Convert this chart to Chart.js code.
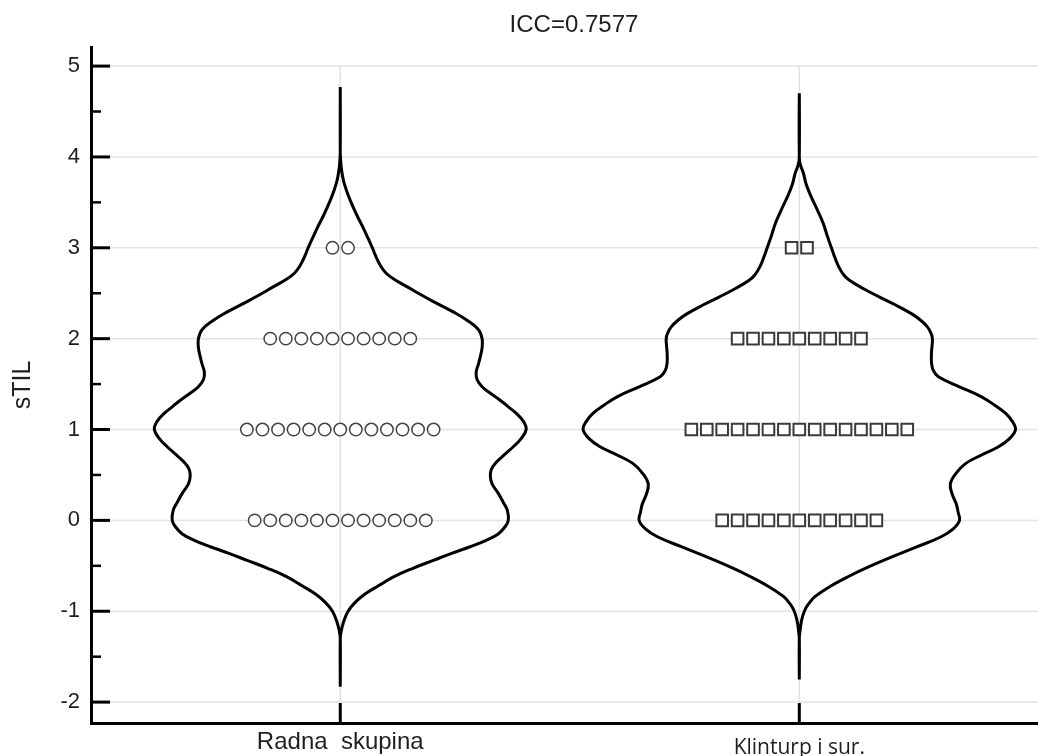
<!DOCTYPE html>
<html>
<head>
<meta charset="utf-8">
<title>sTIL - violin</title>
<script src="https://cdn.jsdelivr.net/npm/chart.js@4.4.1/dist/chart.umd.min.js"></script>
<style>
  html, body { margin: 0; padding: 0; background: #fff; overflow: hidden; }
  #wrap { width: 1038px; height: 756px; position: relative; }
</style>
</head>
<body>
<div id="wrap"><canvas id="chart-violin" width="1038" height="756"></canvas></div>
<script>
'use strict';

/* ─── Data ───────────────────────────────────────────────── */
var categories  = ['Radna  skupina', 'Klinturp i sur.'];
var chartTitle  = 'ICC=0.7577';
var axisTitle   = 'sTIL';
var yTicks      = [-2, -1, 0, 1, 2, 3, 4, 5];
var yMinorTicks = [-1.5, -0.5, 0.5, 1.5, 2.5, 3.5, 4.5];

var scoreLevels    = [0, 1, 2, 3];
var radnaCounts    = [12, 13, 10, 2];
var klinturpCounts = [11, 15, 9, 2];

/* violin outline : sTIL level -> half width of the density (x units) */
var radnaViolinY = [-1.83, -1.3, -1.22, -1.12, -1.0, -0.9, -0.81, -0.72, -0.625, -0.53,
                    -0.44, -0.36, -0.29, -0.22, -0.15, -0.07, 0.0, 0.11, 0.2, 0.3,
                    0.4, 0.48, 0.56, 0.63, 0.72, 0.81, 0.9, 1.0, 1.09, 1.18,
                    1.25, 1.32, 1.4, 1.47, 1.55, 1.63, 1.72, 1.8, 1.9, 2.0,
                    2.1, 2.2, 2.3, 2.36, 2.43, 2.5, 2.57, 2.65, 2.72, 2.8,
                    2.9, 3.0, 3.1, 3.22, 3.35, 3.52, 3.64, 3.74, 3.85, 3.95, 4.05, 4.77];
var radnaViolinW = [0, 0, 0.002, 0.007, 0.017, 0.033, 0.054, 0.083, 0.115, 0.157,
                    0.203, 0.244, 0.283, 0.318, 0.344, 0.359, 0.366, 0.364, 0.355, 0.344,
                    0.331, 0.327, 0.329, 0.338, 0.357, 0.377, 0.394, 0.405, 0.399, 0.383,
                    0.366, 0.349, 0.327, 0.309, 0.298, 0.296, 0.301, 0.305, 0.309, 0.309,
                    0.301, 0.277, 0.244, 0.221, 0.195, 0.170, 0.146, 0.118, 0.100, 0.088,
                    0.078, 0.070, 0.061, 0.050, 0.037, 0.022, 0.013, 0.007, 0.003, 0.001, 0, 0];

var klinturpViolinY = [-1.75, -1.3, -1.2, -1.1, -1.0, -0.92, -0.84, -0.73, -0.62, -0.51,
                       -0.40, -0.29, -0.18, -0.09, 0.0, 0.09, 0.18, 0.29, 0.40, 0.51,
                       0.625, 0.72, 0.81, 0.9, 1.0, 1.09, 1.18, 1.27, 1.36, 1.47,
                       1.58, 1.65, 1.73, 1.85, 2.0, 2.07, 2.13, 2.2, 2.27, 2.37,
                       2.46, 2.55, 2.64, 2.7, 2.79, 2.9, 3.0, 3.13, 3.27, 3.42,
                       3.56, 3.7, 3.82, 3.92, 4.0, 4.70];
var klinturpViolinW = [0, 0, 0.002, 0.005, 0.011, 0.020, 0.034, 0.066, 0.106, 0.152,
                       0.203, 0.257, 0.309, 0.336, 0.349, 0.346, 0.342, 0.333, 0.329, 0.340,
                       0.362, 0.397, 0.434, 0.458, 0.471, 0.464, 0.449, 0.425, 0.397, 0.349,
                       0.303, 0.292, 0.288, 0.288, 0.290, 0.286, 0.279, 0.265, 0.246, 0.210,
                       0.174, 0.140, 0.110, 0.097, 0.086, 0.077, 0.070, 0.061, 0.052, 0.039,
                       0.026, 0.015, 0.009, 0.002, 0, 0];

/* ─── Builders ───────────────────────────────────────────── */
function violinPath(center, ys, ws) {
  var pts = [];
  var i;
  for (i = 0; i < ys.length; i++) {
    pts.push({ x: center - ws[i], y: ys[i] });
  }
  for (i = ys.length - 2; i >= 0; i--) {
    pts.push({ x: center + ws[i], y: ys[i] });
  }
  return pts;
}

/* points of one level are laid side by side, centred on the category */
function dotRows(center, levels, counts, step) {
  var pts = [];
  for (var i = 0; i < levels.length; i++) {
    var n = counts[i];
    for (var k = 0; k < n; k++) {
      pts.push({ x: center + (k - (n - 1) / 2) * step, y: levels[i] });
    }
  }
  return pts;
}

/* ─── Grid, inner ticks, labels, title ───────────────────── */
var decorPlugin = {
  id: 'decor',
  beforeDatasetsDraw: function(chart) {
    var ctx = chart.ctx, area = chart.chartArea;
    var xs = chart.scales.x, ys = chart.scales.y;
    var i, p;
    ctx.save();
    ctx.strokeStyle = '#e3e3e3';
    ctx.lineWidth = 1.5;
    for (i = 0; i < yTicks.length; i++) {
      p = ys.getPixelForValue(yTicks[i]);
      ctx.beginPath(); ctx.moveTo(area.left + 2, p); ctx.lineTo(area.right, p); ctx.stroke();
    }
    var yTop = ys.getPixelForValue(yTicks[yTicks.length - 1]);
    var yBot = ys.getPixelForValue(yTicks[0]);
    for (i = 0; i < categories.length; i++) {
      p = xs.getPixelForValue(i);
      ctx.beginPath(); ctx.moveTo(p, yTop); ctx.lineTo(p, yBot); ctx.stroke();
    }

    ctx.strokeStyle = '#000';
    ctx.lineWidth = 3;
    for (i = 0; i < yTicks.length; i++) {
      p = ys.getPixelForValue(yTicks[i]);
      ctx.beginPath(); ctx.moveTo(area.left, p); ctx.lineTo(area.left + 19, p); ctx.stroke();
    }
    ctx.lineWidth = 2.5;
    for (i = 0; i < yMinorTicks.length; i++) {
      p = ys.getPixelForValue(yMinorTicks[i]);
      ctx.beginPath(); ctx.moveTo(area.left, p); ctx.lineTo(area.left + 10, p); ctx.stroke();
    }
    ctx.lineWidth = 3;
    for (i = 0; i < categories.length; i++) {
      p = xs.getPixelForValue(i);
      ctx.beginPath(); ctx.moveTo(p, area.bottom); ctx.lineTo(p, area.bottom - 20); ctx.stroke();
    }
    ctx.restore();
  },
  afterDraw: function(chart) {
    var ctx = chart.ctx, area = chart.chartArea, xs = chart.scales.x;
    ctx.save();
    ctx.fillStyle = '#1e1e1e';
    ctx.textAlign = 'center';
    ctx.textBaseline = 'middle';
    ctx.font = '24px "Liberation Sans", Arial, sans-serif';
    ctx.fillText(chartTitle, 574, 25);
    /* the two group names use different faces in the source */
    ctx.fillText(categories[0], xs.getPixelForValue(0), area.bottom + 19);
    ctx.font = '21px "Open Sans", sans-serif';
    ctx.fillText(categories[1], xs.getPixelForValue(1), area.bottom + 25);
    ctx.restore();
  }
};

/* ─── Chart ──────────────────────────────────────────────── */
function renderViolins() {
  var ctx = document.getElementById('chart-violin');
  if (!ctx || typeof Chart === 'undefined') { return; }

  new Chart(ctx, {
    type: 'scatter',
    data: {
      datasets: [
        {
          data: violinPath(0, radnaViolinY, radnaViolinW),
          showLine: true, borderColor: '#000', borderWidth: 3,
          pointRadius: 0, tension: 0.4, fill: false
        },
        {
          data: violinPath(1, klinturpViolinY, klinturpViolinW),
          showLine: true, borderColor: '#000', borderWidth: 3,
          pointRadius: 0, tension: 0.4, fill: false
        },
        {
          data: dotRows(0, scoreLevels, radnaCounts, 0.0339),
          pointStyle: 'circle', pointRadius: 6.2, borderWidth: 1.5,
          borderColor: '#444', backgroundColor: '#fff'
        },
        {
          data: dotRows(1, scoreLevels, klinturpCounts, 0.0336),
          pointStyle: 'rect', pointRadius: 8.2, borderWidth: 2,
          borderColor: '#3a3a3a', backgroundColor: '#fff'
        }
      ]
    },
    options: {
      responsive: false,
      animation: false,
      events: [],
      layout: { autoPadding: false, padding: { top: 47, right: 0, bottom: 0, left: 0 } },
      plugins: {
        legend: { display: false },
        tooltip: { enabled: false },
        title: { display: false }
      },
      scales: {
        x: {
          type: 'linear',
          min: -0.543, max: 1.52,
          afterBuildTicks: function(s) {
            s.ticks = categories.map(function(c, i) { return { value: i }; });
          },
          afterFit: function(s) { s.height = 33; },
          grid: { display: false, drawTicks: false },
          border: { display: true, color: '#000', width: 3 },
          ticks: { display: false }
        },
        y: {
          type: 'linear',
          min: -2.23, max: 5.21,
          afterBuildTicks: function(s) {
            s.ticks = yTicks.map(function(v) { return { value: v }; });
          },
          afterFit: function(s) { s.width = 91; },
          grid: { display: false, drawTicks: false },
          border: { display: true, color: '#000', width: 3 },
          title: {
            display: true,
            text: axisTitle,
            color: '#1e1e1e',
            font: { family: '"Liberation Sans", Arial, sans-serif', size: 25 },
            padding: { top: 8, bottom: 0 }
          },
          ticks: {
            padding: 11,
            color: '#1e1e1e',
            font: { family: '"Liberation Sans", Arial, sans-serif', size: 22 }
          }
        }
      }
    },
    plugins: [decorPlugin]
  });
}

document.addEventListener('DOMContentLoaded', renderViolins);
</script>
</body>
</html>
